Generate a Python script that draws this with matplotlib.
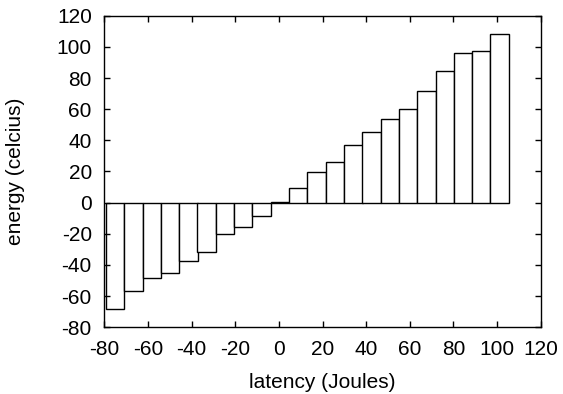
"""Step-style bar chart: energy vs latency."""
import matplotlib

matplotlib.use("Agg")
import matplotlib.pyplot as plt

# bar centres (latency) and heights (energy)
latency = [-75.0, -66.6, -58.2, -49.8, -41.4, -33.1, -24.7, -16.4, -8.0, 0.4,
           8.8, 17.3, 25.8, 34.2, 42.5, 50.8, 59.2, 67.6, 76.0, 84.3, 92.7, 101.1]
energy = [-68.5, -56.5, -48.4, -45.4, -37.2, -31.5, -20.3, -15.9, -8.4, 0.3,
          9.6, 19.7, 25.9, 37.2, 45.1, 53.5, 60.3, 71.4, 84.7, 96.3, 97.3, 108.5]
bar_width = 8.4

xticks = [-80, -60, -40, -20, 0, 20, 40, 60, 80, 100, 120]
yticks = [-80, -60, -40, -20, 0, 20, 40, 60, 80, 100, 120]

plt.rcParams["font.family"] = ["Liberation Sans", "DejaVu Sans"]
plt.rcParams["axes.unicode_minus"] = False

fig = plt.figure(figsize=(5.63, 3.94), dpi=100)
ax = fig.add_axes([0.1853, 0.1693, 0.7751, 0.7909])

ax.bar(latency, energy, width=bar_width, facecolor="white",
       edgecolor="black", linewidth=1.0)

ax.set_xlim(-80, 120)
ax.set_ylim(-80, 120)
ax.set_xticks(xticks)
ax.set_yticks(yticks)
ax.tick_params(direction="in", length=4.5, width=1.0, top=True, right=True,
               labelsize=15, pad=9)
for sp in ax.spines.values():
    sp.set_linewidth(1.0)

ax.set_xlabel("latency (Joules)", fontsize=15, labelpad=10)
ax.set_ylabel("energy (celcius)", fontsize=15, labelpad=23)

fig.savefig("out.png", dpi=100, facecolor="white")
plt.close(fig)
